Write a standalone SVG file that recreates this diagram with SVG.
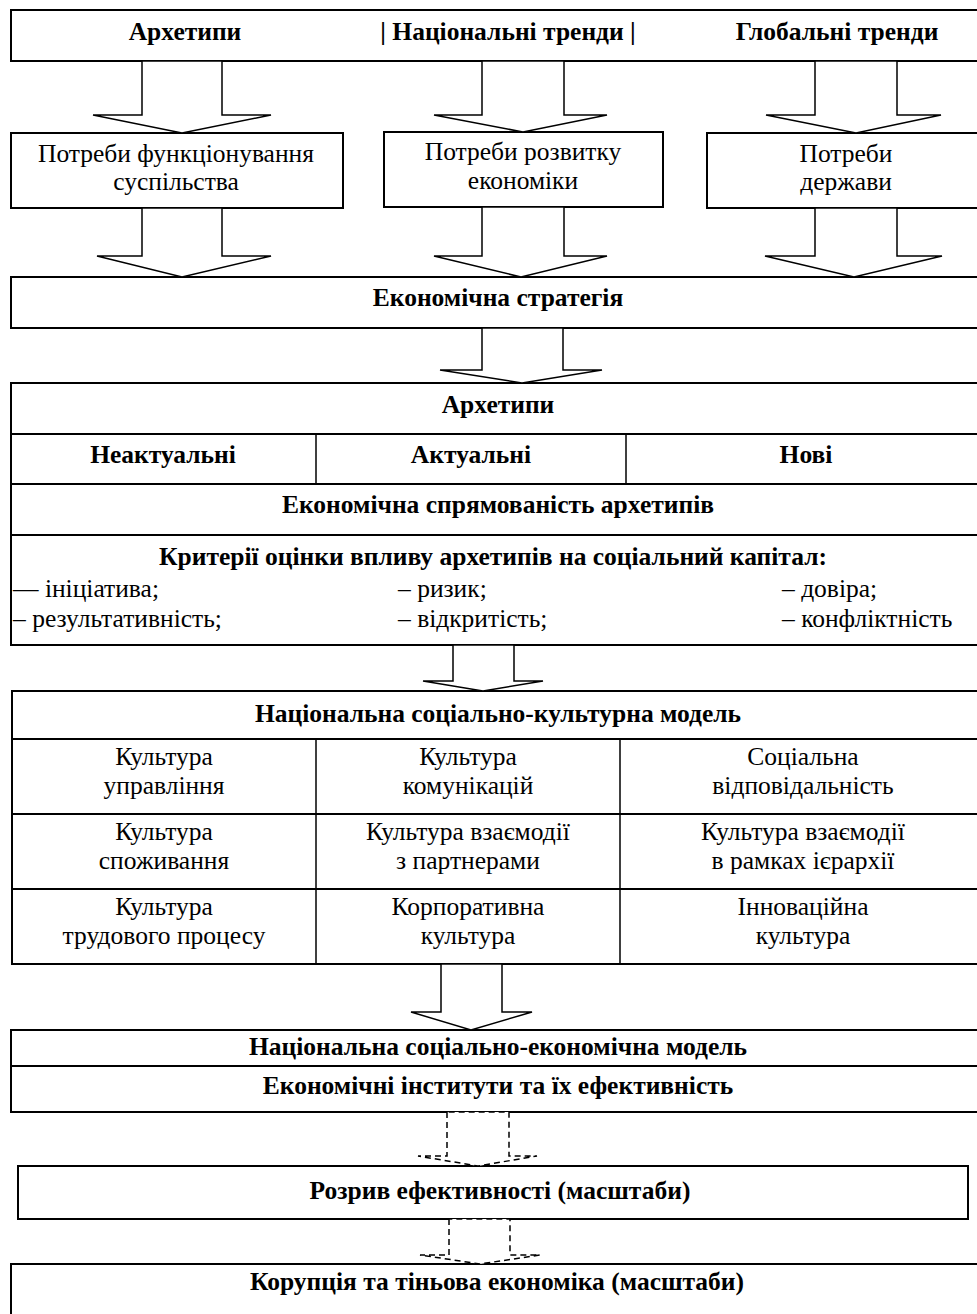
<svg xmlns="http://www.w3.org/2000/svg" width="977" height="1314" viewBox="0 0 977 1314">
<style>
.box{fill:#fff;stroke:#000;stroke-width:2}
.ln{stroke:#000;stroke-width:2}
.vl{stroke:#000;stroke-width:1.5}
.arr{fill:#fff;stroke:#000;stroke-width:1.5;stroke-linejoin:miter}
.darr{fill:#fff;stroke:#000;stroke-width:1.5;stroke-dasharray:6 4}
.b{font-family:"Liberation Serif","Times New Roman",serif;font-size:25.5px;font-weight:bold;fill:#000;text-anchor:middle}
.r{font-family:"Liberation Serif","Times New Roman",serif;font-size:25.5px;fill:#000;text-anchor:middle}
.l{font-family:"Liberation Serif","Times New Roman",serif;font-size:25.5px;fill:#000}
</style>
<rect width="977" height="1314" fill="#fff"/>

<g id="top">
<rect class="box" x="11" y="10" width="980" height="51"/>
<text class="b" x="185" y="40">Архетипи</text>
<text class="b" x="508" y="40">| Національні тренди |</text>
<text class="b" x="837" y="40">Глобальні тренди</text>
</g>

<g id="need1">
<rect class="box" x="11" y="133" width="332" height="75"/>
<text class="r" x="176" y="162">Потреби функціонування</text>
<text class="r" x="176" y="190">суспільства</text>
</g>
<g id="need2">
<rect class="box" x="384" y="132" width="279" height="75"/>
<text class="r" x="523" y="160">Потреби розвитку</text>
<text class="r" x="523" y="189">економіки</text>
</g>
<g id="need3">
<rect class="box" x="707" y="133" width="280" height="75"/>
<text class="r" x="846" y="162">Потреби</text>
<text class="r" x="846" y="190">держави</text>
</g>

<g id="strategy">
<rect class="box" x="11" y="277" width="980" height="51"/>
<text class="b" x="498" y="306">Економічна стратегія</text>
</g>

<g id="archetypes">
<rect class="box" x="11" y="383" width="980" height="262"/>
<line class="ln" x1="11" y1="434" x2="991" y2="434"/>
<line class="ln" x1="11" y1="484" x2="991" y2="484"/>
<line class="ln" x1="11" y1="535" x2="991" y2="535"/>
<line class="vl" x1="316" y1="434" x2="316" y2="484"/>
<line class="vl" x1="626" y1="434" x2="626" y2="484"/>
<text class="b" x="498" y="413">Архетипи</text>
<text class="b" x="163" y="463">Неактуальні</text>
<text class="b" x="471" y="463">Актуальні</text>
<text class="b" x="806" y="463">Нові</text>
<text class="b" x="498" y="513">Економічна спрямованість архетипів</text>
<text class="b" x="493" y="565">Критерії оцінки впливу архетипів на соціальний капітал:</text>
<text class="l" x="13" y="597">— ініціатива;</text>
<text class="l" x="398" y="597">– ризик;</text>
<text class="l" x="782" y="597">– довіра;</text>
<text class="l" x="13" y="627">– результативність;</text>
<text class="l" x="398" y="627">– відкритість;</text>
<text class="l" x="782" y="627">– конфліктність</text>
</g>

<g id="culture">
<rect class="box" x="12" y="691" width="980" height="273"/>
<line class="ln" x1="12" y1="739" x2="992" y2="739"/>
<line class="ln" x1="12" y1="814" x2="992" y2="814"/>
<line class="ln" x1="12" y1="889" x2="992" y2="889"/>
<line class="vl" x1="316" y1="739" x2="316" y2="964"/>
<line class="vl" x1="620" y1="739" x2="620" y2="964"/>
<text class="b" x="498" y="722">Національна соціально-культурна модель</text>
<text class="r" x="164" y="765">Культура</text>
<text class="r" x="164" y="794">управління</text>
<text class="r" x="468" y="765">Культура</text>
<text class="r" x="468" y="794">комунікацій</text>
<text class="r" x="803" y="765">Соціальна</text>
<text class="r" x="803" y="794">відповідальність</text>
<text class="r" x="164" y="840">Культура</text>
<text class="r" x="164" y="869">споживання</text>
<text class="r" x="468" y="840">Культура взаємодії</text>
<text class="r" x="468" y="869">з партнерами</text>
<text class="r" x="803" y="840">Культура взаємодії</text>
<text class="r" x="803" y="869">в рамках ієрархії</text>
<text class="r" x="164" y="915">Культура</text>
<text class="r" x="164" y="944">трудового процесу</text>
<text class="r" x="468" y="915">Корпоративна</text>
<text class="r" x="468" y="944">культура</text>
<text class="r" x="803" y="915">Інноваційна</text>
<text class="r" x="803" y="944">культура</text>
</g>

<g id="economic">
<rect class="box" x="11" y="1030" width="980" height="82"/>
<line class="ln" x1="11" y1="1066" x2="991" y2="1066"/>
<text class="b" x="498" y="1055">Національна соціально-економічна модель</text>
<text class="b" x="498" y="1094">Економічні інститути та їх ефективність</text>
</g>

<g id="gap">
<rect class="box" x="18" y="1166" width="950" height="53"/>
<text class="b" x="500" y="1199">Розрив ефективності (масштаби)</text>
</g>

<g id="corruption">
<rect class="box" x="11" y="1264" width="980" height="70"/>
<text class="b" x="497" y="1290">Корупція та тіньова економіка (масштаби)</text>
</g>

<g id="connectors">
<polygon class="arr" points="142,61 142,115 93,115 182,133 271,115 222,115 222,61"/>
<polygon class="arr" points="482,61 482,115 434,115 523,132 607,115 564,115 564,61"/>
<polygon class="arr" points="815,61 815,115 766,115 856,133 941,115 897,115 897,61"/>
<polygon class="arr" points="142,208 142,256 97,256 182,277 271,256 222,256 222,208"/>
<polygon class="arr" points="482,207 482,256 434,256 521,277 607,256 564,256 564,207"/>
<polygon class="arr" points="815,208 815,256 765,256 854,277 942,256 897,256 897,208"/>
<polygon class="arr" points="482,328 482,370 440,370 522,383 602,370 563,370 563,328"/>
<polygon class="arr" points="453,645 453,681 423,681 483,691 543,681 514,681 514,645"/>
<polygon class="arr" points="441,964 441,1012 411,1012 471,1030 532,1012 502,1012 502,964"/>
<polygon class="darr" points="447,1112 447,1156 418,1156 478,1166 537,1156 509,1156 509,1112"/>
<polygon class="darr" points="449,1219 449,1255 420,1255 480,1264 540,1255 510,1255 510,1219"/>
</g>
</svg>
